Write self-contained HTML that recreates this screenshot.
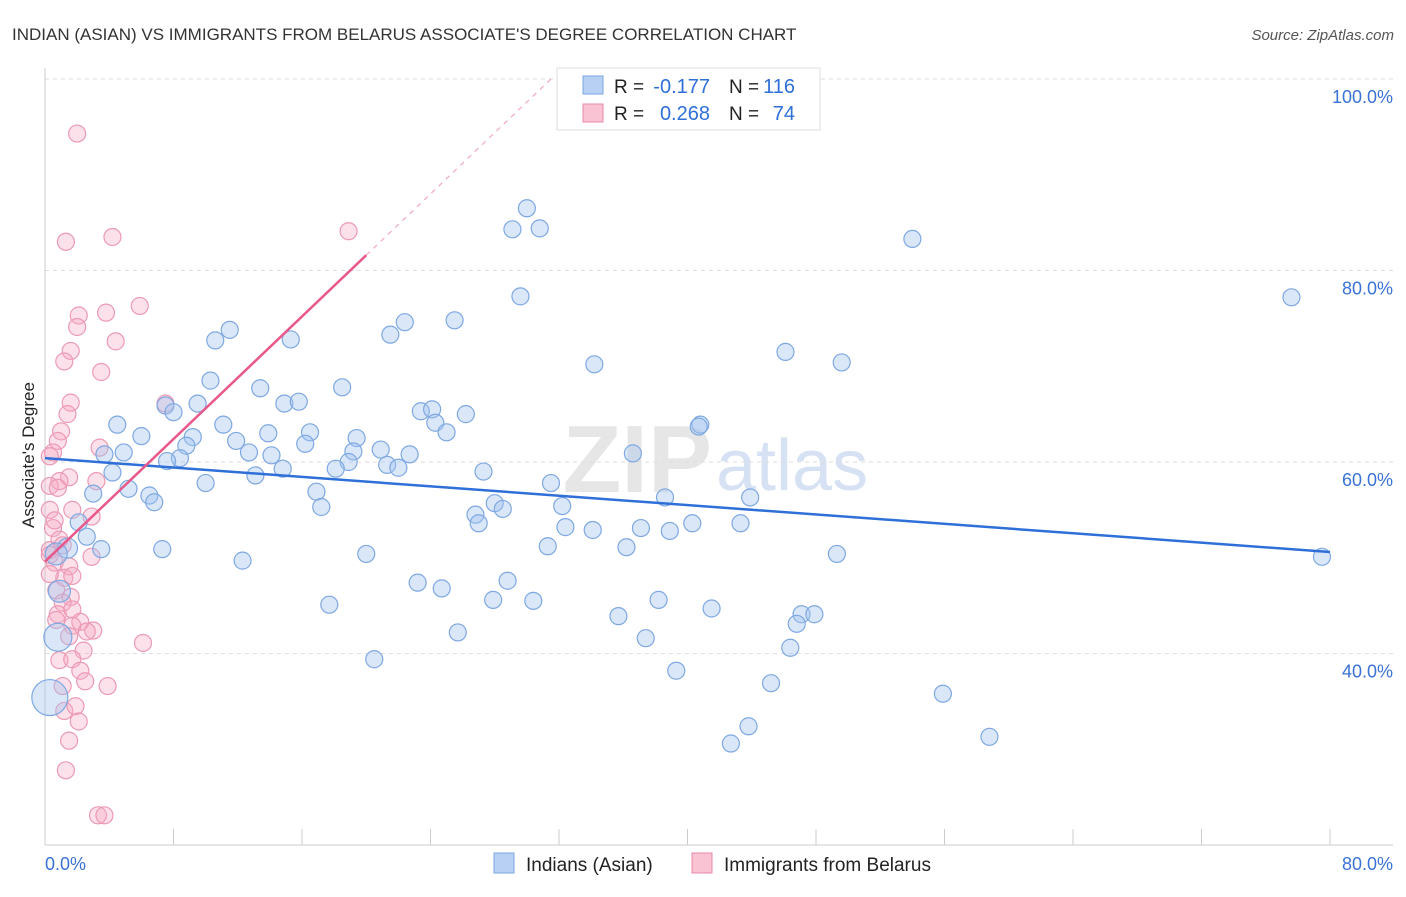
<!DOCTYPE html>
<html><head><meta charset="utf-8">
<style>
body{margin:0;background:#fff;font-family:"Liberation Sans",sans-serif;}
svg text{font-family:"Liberation Sans",sans-serif;}
</style></head>
<body>
<svg id="chart" width="1406" height="892" xmlns="http://www.w3.org/2000/svg">
<text x="12" y="40" font-size="17" fill="#333">INDIAN (ASIAN) VS IMMIGRANTS FROM BELARUS ASSOCIATE'S DEGREE CORRELATION CHART</text>
<text x="1394" y="40" font-size="15" fill="#555" text-anchor="end" font-style="italic">Source: ZipAtlas.com</text>
<text x="712" y="492" font-size="96" fill="#e6e6e6" text-anchor="end" font-family="Liberation Serif" font-weight="bold">ZIP</text>
<text x="716" y="490" font-size="72" fill="#d6e2f3">atlas</text>
<g id="grid"></g>
<g id="axes"></g>
<g id="pts"></g>
<g id="trends"></g>
<text transform="translate(34,455) rotate(-90)" font-size="17" fill="#222" text-anchor="middle">Associate's Degree</text>
<g>
<rect x="557" y="68" width="263" height="62" fill="#fff" stroke="#ddd"/>
<rect x="583" y="76" width="20" height="18" fill="#b8d0f3" stroke="#7aa6e0"/>
<rect x="583" y="104" width="20" height="18" fill="#f9c3d3" stroke="#e88aa6"/>
<text x="614" y="93" font-size="19" fill="#222">R =</text>
<text x="710" y="93" font-size="20" fill="#2f6fd8" text-anchor="end">-0.177</text>
<text x="729" y="93" font-size="19" fill="#222">N =</text>
<text x="795" y="93" font-size="20" fill="#2f6fd8" text-anchor="end">116</text>
<text x="614" y="120" font-size="19" fill="#222">R =</text>
<text x="710" y="120" font-size="20" fill="#2f6fd8" text-anchor="end">0.268</text>
<text x="729" y="120" font-size="19" fill="#222">N =</text>
<text x="795" y="120" font-size="20" fill="#2f6fd8" text-anchor="end">74</text>
</g>
<g>
<rect x="494" y="853" width="20" height="20" fill="#b8d0f3" stroke="#7aa6e0"/>
<text x="526" y="871" font-size="19" fill="#222">Indians (Asian)</text>
<rect x="692" y="853" width="20" height="20" fill="#f9c3d3" stroke="#e88aa6"/>
<text x="724" y="871" font-size="19" fill="#222">Immigrants from Belarus</text>
</g>
</svg>
<script>
const blueX=[30.0,29.1,30.8,54.0,77.6,29.6,25.5,22.4,21.5,11.5,10.6,15.3,46.1,49.6,34.2,10.3,13.4,18.5,7.5,9.5,14.9,15.8,8.0,4.5,11.1,23.4,24.1,26.2,24.3,25.0,40.8,40.7,6.0,9.2,11.9,13.9,16.5,16.2,19.4,20.9,3.7,4.9,8.8,8.4,12.7,14.1,19.2,22.7,36.6,7.6,18.9,21.3,22.0,14.8,18.1,27.3,4.2,13.1,10.0,5.2,31.5,3.0,6.5,6.8,16.9,17.2,28.0,28.5,26.8,27.0,38.6,43.9,32.2,2.1,2.6,32.4,34.1,37.1,38.9,40.3,43.3,3.5,7.3,31.3,36.2,20.0,12.3,49.3,79.5,23.2,24.7,28.8,17.7,27.9,30.4,38.2,41.5,35.7,47.1,47.9,46.8,25.7,37.4,46.4,20.5,39.3,45.2,55.9,43.8,42.7,58.8,0.8,0.3,0.9,1.4,0.7];
const blueY=[86.5,84.3,84.4,83.3,77.2,77.3,74.8,74.6,73.3,73.8,72.7,72.8,71.5,70.4,70.2,68.5,67.7,67.8,65.9,66.1,66.1,66.3,65.2,63.9,63.9,65.3,65.5,65.0,64.1,63.1,63.9,63.7,62.7,62.6,62.2,63.0,63.1,61.9,62.5,61.3,60.8,61.0,61.7,60.4,61.0,60.7,61.1,60.8,60.9,60.1,60.0,59.7,59.4,59.3,59.3,59.0,58.9,58.6,57.8,57.2,57.8,56.7,56.5,55.8,56.9,55.3,55.7,55.1,54.5,53.6,56.3,56.3,55.4,53.7,52.2,53.2,52.9,53.1,52.8,53.6,53.6,50.9,50.9,51.2,51.1,50.4,49.7,50.4,50.1,47.4,46.8,47.6,45.1,45.6,45.5,45.6,44.7,43.9,44.1,44.1,43.1,42.2,41.6,40.6,39.4,38.2,36.9,35.8,32.4,30.6,31.3,41.7,35.4,46.5,51.0,50.4];
const blueR=[];for(let i=0;i<blueX.length;i++)blueR.push(8.5);
blueR[111]=14;blueR[112]=18;blueR[113]=11;blueR[114]=10;blueR[115]=11;
const pinkX=[2.0,4.2,1.3,18.9,5.9,3.8,2.1,2.0,4.4,1.6,1.2,3.5,7.5,1.6,1.4,1.0,0.8,3.4,0.5,0.3,1.5,0.9,0.3,0.8,3.2,2.9,0.3,1.7,0.5,0.9,1.1,0.3,2.9,0.6,1.5,1.2,1.7,0.3,0.7,1.6,1.1,0.8,1.7,0.7,2.2,1.7,3.0,1.5,2.6,6.1,2.4,0.9,1.7,2.2,1.1,2.5,3.9,1.2,1.9,2.1,1.5,1.3,3.3,3.7,0.3,0.6];
const pinkY=[94.3,83.5,83.0,84.1,76.3,75.6,75.3,74.1,72.6,71.6,70.5,69.4,66.1,66.2,65.0,63.2,62.2,61.5,61.0,60.6,58.4,58.0,57.5,57.3,58.0,54.3,55.0,55.0,53.1,51.9,51.3,50.8,50.1,49.5,49.1,47.9,48.1,48.3,46.6,45.9,45.3,44.1,44.6,43.5,43.3,42.9,42.4,41.8,42.3,41.1,40.3,39.3,39.4,38.2,36.6,37.1,36.6,34.0,34.5,32.9,30.9,27.8,23.1,23.1,50.3,53.9];
const blueTrendX=[0,80], blueTrendY=[60.4,50.6];
const pinkTrendX=[0,20], pinkTrendY=[49.6,81.6];
const yTicks=[100,80,60,40];
const xTickVals=[0,8,16,24,32,40,48,56,64,72,80];

const NS="http://www.w3.org/2000/svg";
const sx=v=>45+v*(1285/80);
const sy=v=>845-(v-20)*9.575;
function mk(tag,attrs,parent){const e=document.createElementNS(NS,tag);for(const k in attrs)e.setAttribute(k,attrs[k]);parent.appendChild(e);return e;}
const grid=document.getElementById('grid'),axes=document.getElementById('axes'),pts=document.getElementById('pts'),tr=document.getElementById('trends');
yTicks.forEach(t=>{
 const l=mk('line',{x1:45,x2:1393,y1:sy(t),y2:sy(t),stroke:'#ddd','stroke-dasharray':'4,4'},grid);
 
 
 const tx=mk('text',{x:1393,y:sy(t)+24,'font-size':18,fill:'#3b72d6','text-anchor':'end'},axes);
 tx.textContent=t.toFixed(1)+'%';
 
 
});
const ya=mk('line',{x1:45,x2:45,y1:68,y2:845,stroke:'#ccc'},axes);


const xa=mk('line',{x1:45,x2:1393,y1:845,y2:845,stroke:'#ccc'},axes);


xTickVals.forEach(t=>{mk('line',{x1:sx(t),x2:sx(t),y1:829,y2:845,stroke:'#ccc'},axes);});
const xl=mk('text',{x:45,y:870,'font-size':18,fill:'#3b72d6'},axes);xl.textContent='0.0%';


const xr=mk('text',{x:1393,y:870,'font-size':18,fill:'#3b72d6','text-anchor':'end'},axes);xr.textContent='80.0%';


for(let i=0;i<pinkX.length;i++){
 const c=mk('circle',{cx:sx(pinkX[i]),cy:sy(pinkY[i]),r:8.5,fill:'rgba(246,170,194,0.35)',stroke:'#ec9ab4','stroke-width':1.2},pts);
 
 
}
for(let i=0;i<blueX.length;i++){
 const c=mk('circle',{cx:sx(blueX[i]),cy:sy(blueY[i]),r:blueR[i],fill:'rgba(160,195,240,0.4)',stroke:'#7fa8e2','stroke-width':1.2},pts);
 
 
}
const bl=mk('line',{x1:sx(blueTrendX[0]),y1:sy(blueTrendY[0]),x2:sx(blueTrendX[1]),y2:sy(blueTrendY[1]),stroke:'#2f6fd8','stroke-width':2.5},tr);


const slope=(pinkTrendY[1]-pinkTrendY[0])/(pinkTrendX[1]-pinkTrendX[0]);
const xEnd=pinkTrendX[0]+(100-pinkTrendY[0])/slope;
const pd=mk('line',{x1:sx(pinkTrendX[1]),y1:sy(pinkTrendY[1]),x2:sx(xEnd),y2:sy(100),stroke:'#f0a8c0','stroke-width':1.2,'stroke-dasharray':'5,5'},tr);


const pl=mk('line',{x1:sx(pinkTrendX[0]),y1:sy(pinkTrendY[0]),x2:sx(pinkTrendX[1]),y2:sy(pinkTrendY[1]),stroke:'#e8588a','stroke-width':2.5},tr);


</script>
</body></html>
